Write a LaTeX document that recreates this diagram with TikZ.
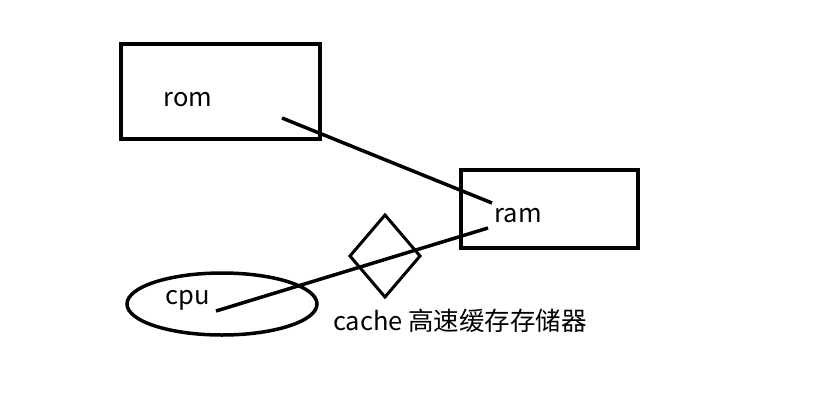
\documentclass[tikz,border=0pt]{standalone}
\usepackage{fontspec}
\setmainfont{Noto Sans CJK SC}
\usetikzlibrary{shapes.geometric}
\begin{document}
\begin{tikzpicture}[x=1pt,y=-1pt,
  box/.style={draw, line width=3.5pt, inner sep=0pt, outer sep=0pt},
  link/.style={line width=3.5pt},
  lbl/.style={inner sep=0pt, font=\fontsize{25.5}{30}\selectfont}]
\useasboundingbox[fill=white] (0,0) rectangle (822,400);
% boxes
\node[box, minimum width=199pt, minimum height=95pt] (rombox) at (220.5,91.5) {};
\node[box, minimum width=177pt, minimum height=78pt] (rambox) at (549.5,209) {};
\node[box, ellipse, minimum width=190pt, minimum height=62pt] (cpubox) at (222,304) {};
\node[box, diamond, line width=3pt, minimum width=70pt, minimum height=82pt] (cachebox) at (385,256) {};
% labels
\node[lbl] (romlabel) at (188,100) {rom};
\node[lbl] (ramlabel) at (518,216) {ram};
\node[lbl] (cpulabel) at (188,300) {cpu};
\node[lbl] (cachelabel) at (460,321) {cache 高速缓存存储器};
% connector ends
\coordinate (romend) at (282,118);
\coordinate (ramendA) at (492,203);
\coordinate (cpuend) at (216,311);
\coordinate (ramendB) at (488,228);
\draw[link] (romend) -- (ramendA);
\draw[link] (cpuend) -- (ramendB);
\end{tikzpicture}
\end{document}
